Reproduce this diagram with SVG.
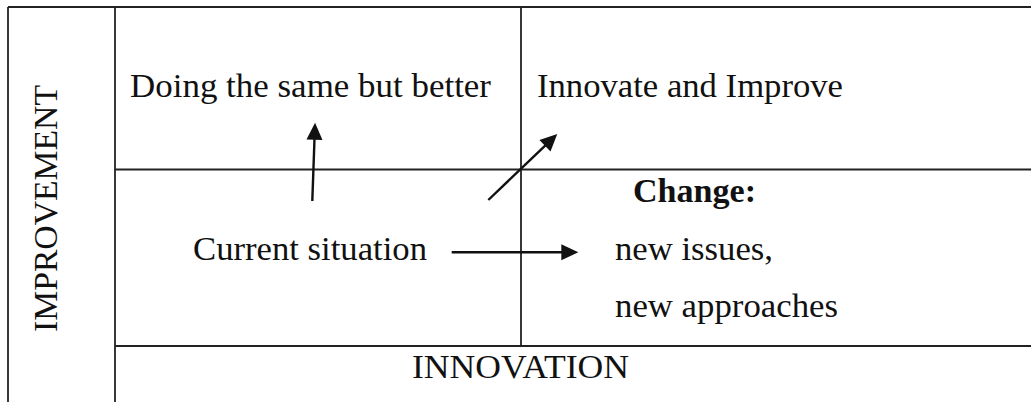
<svg xmlns="http://www.w3.org/2000/svg" width="1031" height="402" viewBox="0 0 1031 402">
  <style>
    .grid line { stroke: #222; stroke-width: 1.8; fill: none; }
    .lbl { font-family: "Liberation Serif", "Times New Roman", serif; font-size: 34px; fill: #111; }
    .bold { font-weight: bold; }
    .conn line { stroke: #111; stroke-width: 2.4; fill: none; marker-end: url(#ah); }
  </style>
  <defs>
    <marker id="ah" markerUnits="userSpaceOnUse" markerWidth="17" markerHeight="16" refX="1" refY="8" orient="auto" overflow="visible">
      <path d="M0,0 L17,8 L0,16 Z" fill="#111"/>
    </marker>
  </defs>
  <rect width="1031" height="402" fill="#fff"/>

  <g id="grid" class="grid">
    <line x1="8" y1="7" x2="1031" y2="7"/>
    <line x1="8" y1="7" x2="8" y2="402"/>
    <line x1="115" y1="7" x2="115" y2="402"/>
    <line x1="115" y1="169.5" x2="1031" y2="169.5"/>
    <line x1="521" y1="7" x2="521" y2="346"/>
    <line x1="115" y1="346" x2="1031" y2="346"/>
  </g>

  <g id="axis-improvement">
    <text class="lbl" transform="translate(57,208.5) rotate(-90)" text-anchor="middle" textLength="247" lengthAdjust="spacingAndGlyphs">IMPROVEMENT</text>
  </g>
  <g id="axis-innovation">
    <text class="lbl" x="412" y="378" textLength="217" lengthAdjust="spacingAndGlyphs">INNOVATION</text>
  </g>
  <g id="node-doing-same-better">
    <text class="lbl" x="130" y="97" textLength="361" lengthAdjust="spacingAndGlyphs">Doing the same but better</text>
  </g>
  <g id="node-innovate-improve">
    <text class="lbl" x="537" y="97" textLength="306" lengthAdjust="spacingAndGlyphs">Innovate and Improve</text>
  </g>
  <g id="node-current-situation">
    <text class="lbl" x="193" y="260" textLength="234" lengthAdjust="spacingAndGlyphs">Current situation</text>
  </g>
  <g id="node-change">
    <text class="lbl bold" x="633" y="202" textLength="123" lengthAdjust="spacingAndGlyphs">Change:</text>
    <text class="lbl" x="615" y="260" textLength="158" lengthAdjust="spacingAndGlyphs">new issues,</text>
    <text class="lbl" x="615" y="317" textLength="223" lengthAdjust="spacingAndGlyphs">new approaches</text>
  </g>

  <g id="connectors" class="conn">
    <line x1="312.3" y1="201" x2="314.5" y2="138.7"/>
    <line x1="488.3" y1="200" x2="545.7" y2="145.1"/>
    <line x1="451.7" y1="252.3" x2="562.3" y2="252.3"/>
  </g>
</svg>
